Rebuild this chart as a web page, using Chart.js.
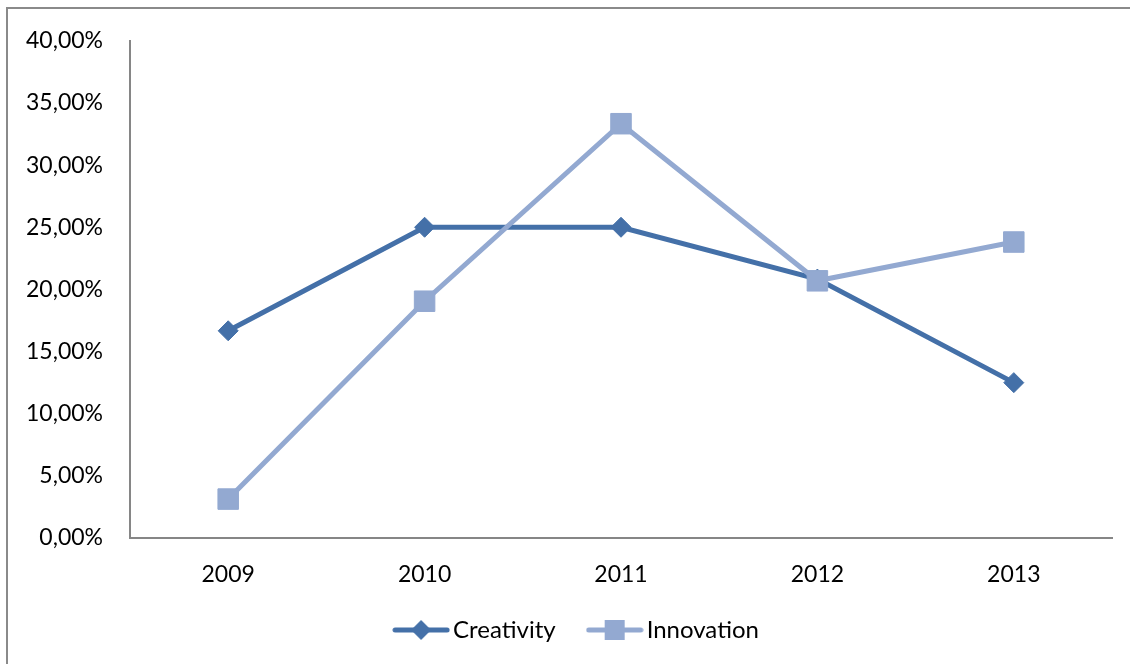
<!DOCTYPE html>
<html>
<head>
<meta charset="utf-8">
<script src="https://cdn.jsdelivr.net/npm/chart.js@4/dist/chart.umd.min.js"></script>
<style>
  html, body { margin: 0; padding: 0; background: #fff; width: 1130px; height: 664px; overflow: hidden; }
  #frame { position: absolute; left: 6px; top: 7px; right: -10px; bottom: -10px;
           border-left: 2px solid #8a8a8a; border-top: 2px solid #8a8a8a; }
  #wrap { position: absolute; left: 0; top: 0; width: 1130px; height: 664px; }
</style>
</head>
<body>
<div id="frame"></div>
<div id="wrap"><canvas id="c" width="1130" height="664"></canvas></div>
<script>
// Share of mentions per year (percent)
const years = ['2009', '2010', '2011', '2012', '2013'];
const creativity = [16.67, 25.00, 25.00, 20.83, 12.50];
const innovation = [3.13, 19.05, 33.33, 20.69, 23.81];
const yMin = 0, yMax = 40, yStep = 5;

const DARK = '#4470a8';
const LIGHT = '#93a9d1';
const FONT = 'Lato, "Open Sans", sans-serif';

// Legend key: short line segment with the series marker in its middle
function makeKey(color, style) {
  const cv = document.createElement('canvas');
  cv.width = 58; cv.height = 22;
  const g = cv.getContext('2d');
  g.strokeStyle = color; g.lineWidth = 5; g.lineCap = 'round';
  g.beginPath(); g.moveTo(3, 11); g.lineTo(55, 11); g.stroke();
  g.fillStyle = color;
  g.beginPath();
  if (style === 'diamond') {
    g.moveTo(29, 1); g.lineTo(39, 11); g.lineTo(29, 21); g.lineTo(19, 11); g.closePath();
  } else {
    g.rect(19, 1, 20, 20);
  }
  g.fill();
  return cv;
}
const keys = [makeKey(DARK, 'diamond'), makeKey(LIGHT, 'square')];

const fmtPct = v => v.toFixed(2).replace('.', ',') + '%';

// Let the year labels use the space down to the legend, and centre the
// legend under the plot area rather than the whole canvas.
const boxTweaks = {
  id: 'boxTweaks',
  afterLayout(chart) {
    const lg = chart.legend;
    lg.left += 24; lg.right += 24;
    chart.scales.x.bottom = chart.height;
  }
};

new Chart(document.getElementById('c'), {
  type: 'line',
  data: {
    labels: years,
    datasets: [
      {
        label: 'Creativity',
        data: creativity,
        borderColor: DARK,
        backgroundColor: DARK,
        borderWidth: 5,
        pointStyle: 'rectRot',
        pointRadius: 10,
        pointBorderWidth: 1,
        tension: 0,
        order: 2
      },
      {
        label: 'Innovation',
        data: innovation,
        borderColor: LIGHT,
        backgroundColor: LIGHT,
        borderWidth: 5,
        pointStyle: 'rect',
        pointRadius: 14.5,
        pointBorderWidth: 1,
        tension: 0,
        order: 1
      }
    ]
  },
  plugins: [boxTweaks],
  options: {
    responsive: false,
    animation: false,
    devicePixelRatio: 1,
    layout: { padding: { left: 0, top: 38, right: 18, bottom: 12 } },
    plugins: {
      tooltip: { enabled: false },
      legend: {
        position: 'bottom',
        labels: {
          usePointStyle: true,
          pointStyleWidth: 40,
          padding: 39,
          color: '#000',
          font: { family: FONT, size: 24 },
          sort: (a, b) => a.datasetIndex - b.datasetIndex,
          generateLabels: chart => chart.data.datasets.map((ds, i) => ({
            text: ds.label,
            pointStyle: keys[i],
            fillStyle: ds.borderColor,
            strokeStyle: ds.borderColor,
            lineWidth: 0,
            hidden: false,
            datasetIndex: i,
            fontColor: '#000'
          }))
        }
      }
    },
    scales: {
      x: {
        offset: true,
        grid: { display: false, drawTicks: false },
        border: { display: true, color: '#868686', width: 2 },
        ticks: { color: '#000', font: { family: FONT, size: 23 }, padding: 23, maxRotation: 0 },
        afterFit: s => { s.height = 41; }
      },
      y: {
        min: yMin,
        max: yMax,
        grid: { display: false, drawTicks: false },
        border: { display: true, color: '#868686', width: 2 },
        ticks: {
          stepSize: yStep,
          color: '#000',
          font: { family: FONT, size: 23 },
          padding: 27,
          callback: v => fmtPct(v)
        },
        afterFit: s => { s.width = 130; }
      }
    }
  }
});
</script>
</body>
</html>
